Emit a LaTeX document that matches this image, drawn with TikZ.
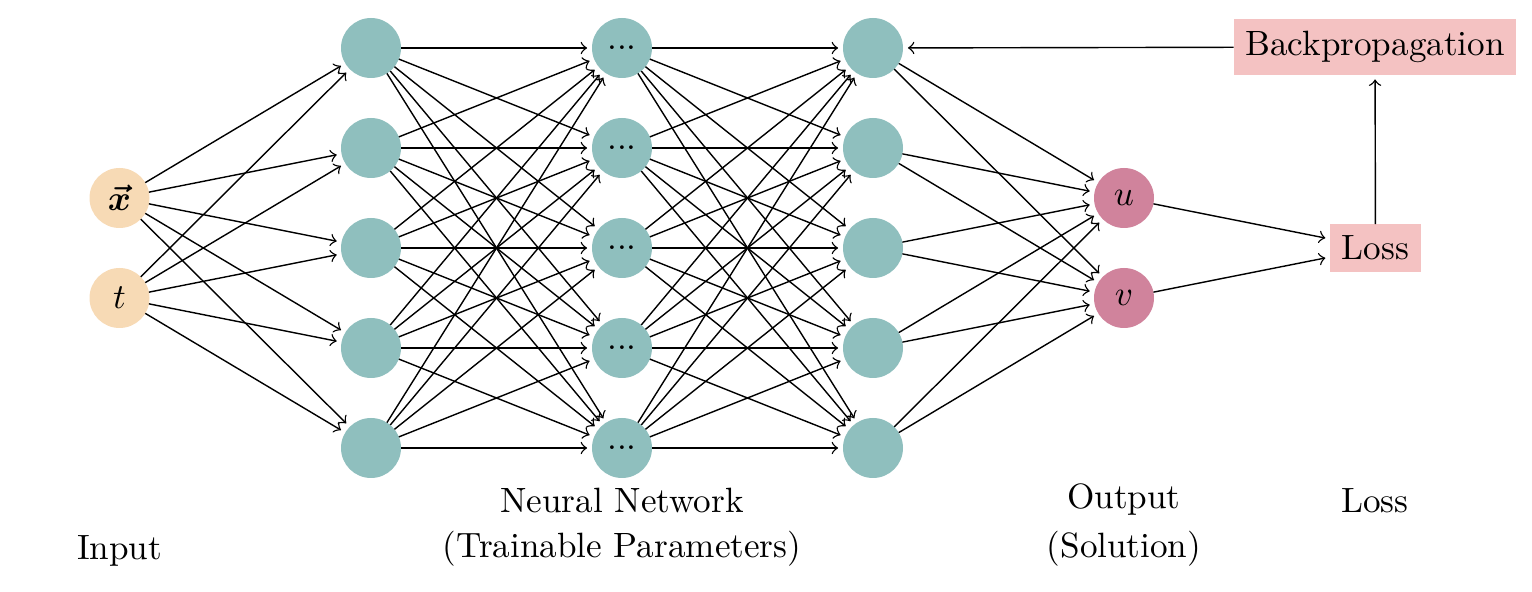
\documentclass[tikz,border=0pt]{standalone}
\usepackage{amsmath}
\usepackage{bm}
\definecolor{inpeach}{HTML}{F7DAB5}
\definecolor{hidteal}{HTML}{8FBFBE}
\definecolor{outpink}{HTML}{D0839C}
\definecolor{losspink}{HTML}{F4C2C2}
\begin{document}
\begin{tikzpicture}[x=1cm,y=-1cm,
  neuron/.style={circle,minimum size=0.6cm,inner sep=0pt,outer sep=0pt},
  innode/.style={neuron,fill=inpeach},
  hidnode/.style={neuron,fill=hidteal},
  outnode/.style={neuron,fill=outpink},
  lossbox/.style={rectangle,fill=losspink,outer sep=0pt},
  conn/.style={->,shorten >=1.4pt,line width=0.4pt},
  lbl/.style={anchor=base,inner sep=0pt}]
\useasboundingbox (0,0) rectangle (15.32,5.92);
% input
\node[innode] (x) at (1.195,1.98) {$\bm{\vec{x}}$};
\node[innode] (t) at (1.195,2.98) {$t$};
% hidden layers
\foreach \i in {1,...,5}{
  \node[hidnode] (a\i) at (3.71,\i-0.52) {};
  \node[hidnode] (b\i) at (6.22,\i-0.52) {...};
  \node[hidnode] (c\i) at (8.73,\i-0.52) {};
}
% output
\node[outnode] (u) at (11.24,1.98) {$u$};
\node[outnode] (v) at (11.24,2.98) {$v$};
% loss and backprop
\node[lossbox] (loss) at (13.755,2.48) {Loss};
\node[lossbox] (bp) at (13.75,0.47) {Backpropagation};
% connections
\foreach \s in {x,t}{
  \foreach \j in {1,...,5}{
    \draw[conn] (\s) -- (a\j);
  }
}
\foreach \i in {1,...,5}{
  \foreach \j in {1,...,5}{
    \draw[conn] (a\i) -- (b\j);
    \draw[conn] (b\i) -- (c\j);
  }
  \draw[conn] (c\i) -- (u);
  \draw[conn] (c\i) -- (v);
}
\draw[conn] (u) -- (loss);
\draw[conn] (v) -- (loss);
\draw[conn] (loss) -- (bp);
\draw[conn] (bp) -- (c1);
% labels
\node[lbl] (linput) at (1.195,5.59) {Input};
\node[lbl] (lnn1) at (6.22,5.12) {Neural Network};
\node[lbl] (lnn2) at (6.22,5.58) {(Trainable Parameters)};
\node[lbl] (lout1) at (11.24,5.08) {Output};
\node[lbl] (lout2) at (11.24,5.58) {(Solution)};
\node[lbl] (lloss) at (13.75,5.12) {Loss};
\end{tikzpicture}
\end{document}
